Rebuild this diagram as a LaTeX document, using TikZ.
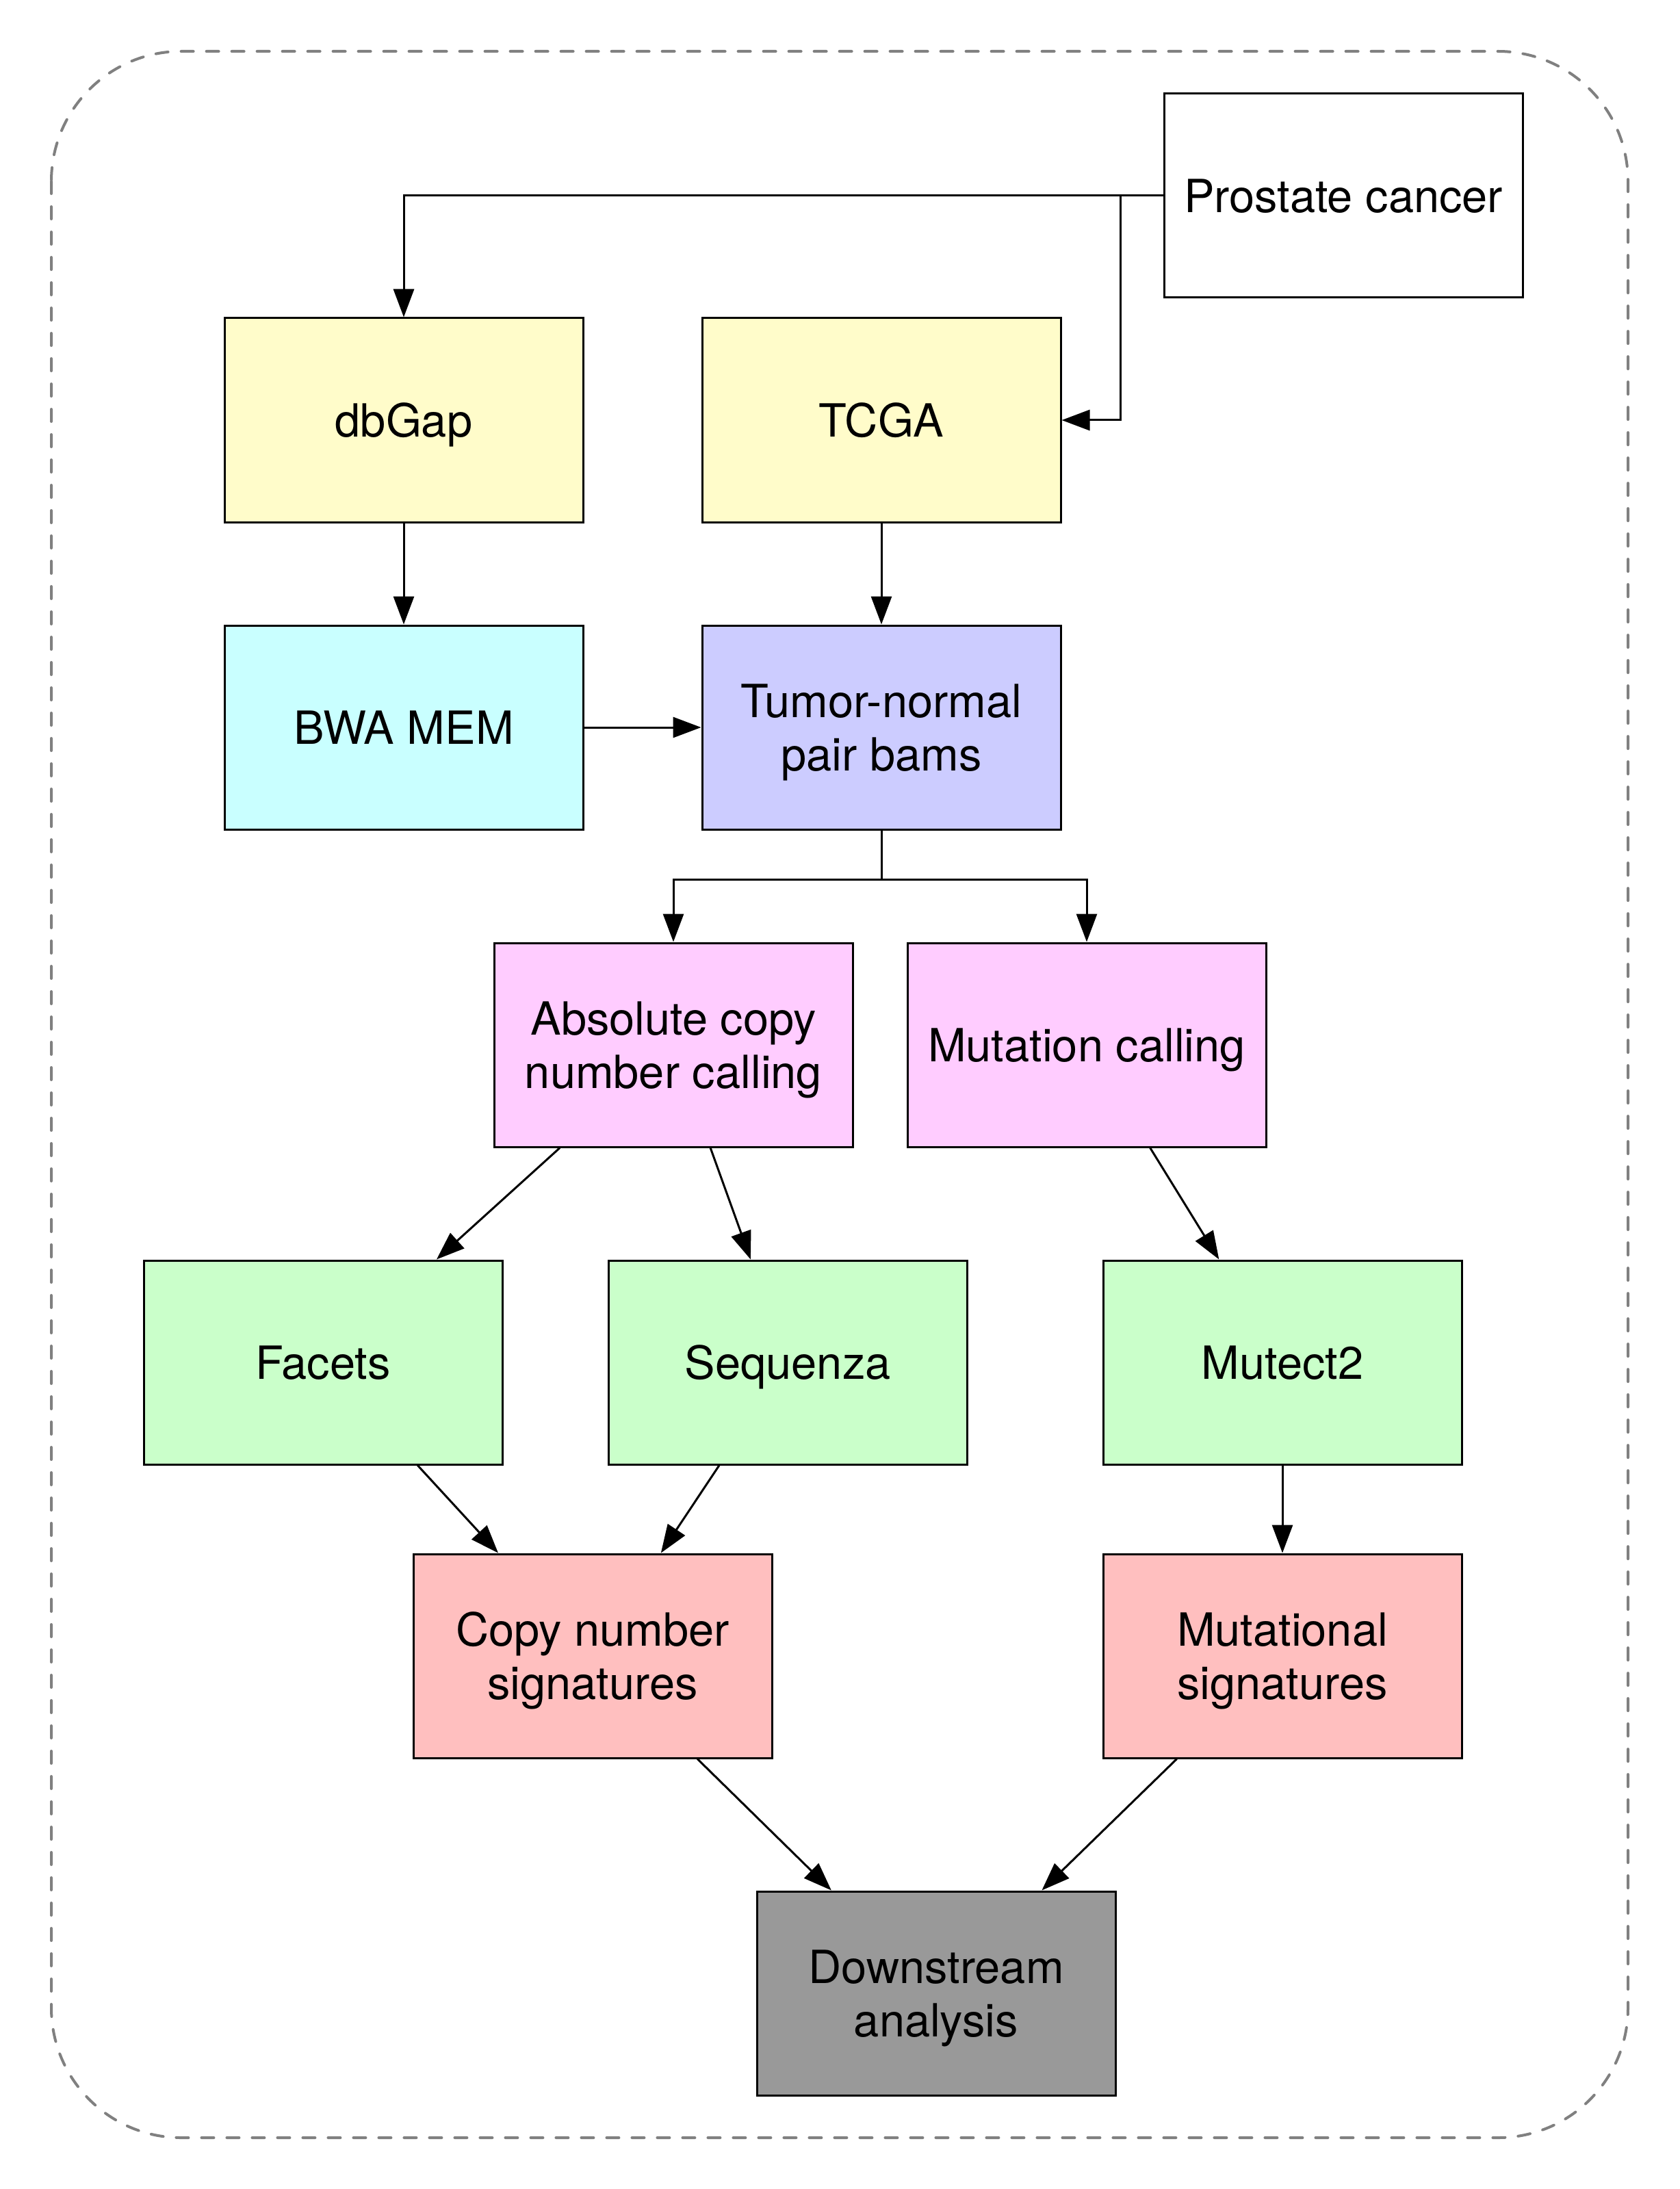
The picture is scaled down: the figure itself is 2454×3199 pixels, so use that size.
\documentclass[tikz,border=0pt]{standalone}
\usepackage{fontspec}
\setmainfont{TeX Gyre Heros}
\usetikzlibrary{arrows.meta}
\definecolor{cyel}{HTML}{FFFCCA}
\definecolor{ccyan}{HTML}{C9FFFF}
\definecolor{cblue}{HTML}{CCCCFF}
\definecolor{cpink}{HTML}{FFCCFF}
\definecolor{cgreen}{HTML}{CAFFCA}
\definecolor{cred}{HTML}{FFBFBF}
\definecolor{cgray}{HTML}{999999}
\definecolor{cframe}{HTML}{808080}
\newcommand{\stt}{\rule{0pt}{18.5pt}}
\newcommand{\stb}{\rule[-4.6pt]{0pt}{4.6pt}}
\tikzset{
  box/.style={draw=black, line width=0.3mm, minimum width=52.4mm, minimum height=29.8mm,
    inner sep=0pt, align=center, font=\fontsize{19}{22}\selectfont},
  conn/.style={draw=black, line width=0.3mm, -{Triangle[length=4.1mm,width=3mm]}},
  frame/.style={draw=cframe, line width=0.4mm, line cap=round,
    dash pattern=on 1.8mm off 1.9mm, rounded corners=19mm}
}
\begin{document}
\begin{tikzpicture}[x=0.1mm,y=-0.1mm]
\useasboundingbox (0,0) rectangle (2454,3199);
\draw[frame] (75,75) rectangle (2379,3124);

\node[box, fill=white]  (pc)  at (1963,286)  {\stt\stb Prostate cancer};
\node[box, fill=cyel]   (db)  at (590,614)   {\stt\stb dbGap};
\node[box, fill=cyel]   (tc)  at (1288,614)  {\stt\stb TCGA};
\node[box, fill=ccyan]  (bwa) at (590,1063)  {\stt\stb BWA MEM};
\node[box, fill=cblue]  (tn)  at (1288,1063) {\stt Tumor-normal\\\stb pair bams};
\node[box, fill=cpink]  (acn) at (984,1527)  {\stt Absolute copy\\\stb number calling};
\node[box, fill=cpink]  (mc)  at (1588,1527) {\stt\stb Mutation calling};
\node[box, fill=cgreen] (fa)  at (472,1991)  {\stt\stb Facets};
\node[box, fill=cgreen] (sq)  at (1151,1991) {\stt\stb Sequenza};
\node[box, fill=cgreen] (mt)  at (1874,1991) {\stt\stb Mutect2};
\node[box, fill=cred]   (cns) at (866,2420)  {\stt Copy number\\\stb signatures};
\node[box, fill=cred]   (ms)  at (1874,2420) {\stt Mutational\\\stb signatures};
\node[box, fill=cgray]  (ds)  at (1368,2913) {\stt Downstream\\\stb analysis};

\coordinate (j1) at (1637,286);
\coordinate (j2) at (1288,1285);

\draw[conn] (pc.west) -| (db.north);
\draw[conn] (pc.west) -- (j1) |- (tc.east);
\draw[conn] (db) -- (bwa);
\draw[conn] (tc) -- (tn);
\draw[conn] (bwa) -- (tn);
\draw[conn] (tn.south) -- (j2) -| (acn.north);
\draw[conn] (j2) -| (mc.north);
\draw[conn] (acn) -- (fa);
\draw[conn] (acn) -- (sq);
\draw[conn] (mc) -- (mt);
\draw[conn] (fa) -- (cns);
\draw[conn] (sq) -- (cns);
\draw[conn] (mt) -- (ms);
\draw[conn] (cns) -- (ds);
\draw[conn] (ms) -- (ds);
\end{tikzpicture}
\end{document}
